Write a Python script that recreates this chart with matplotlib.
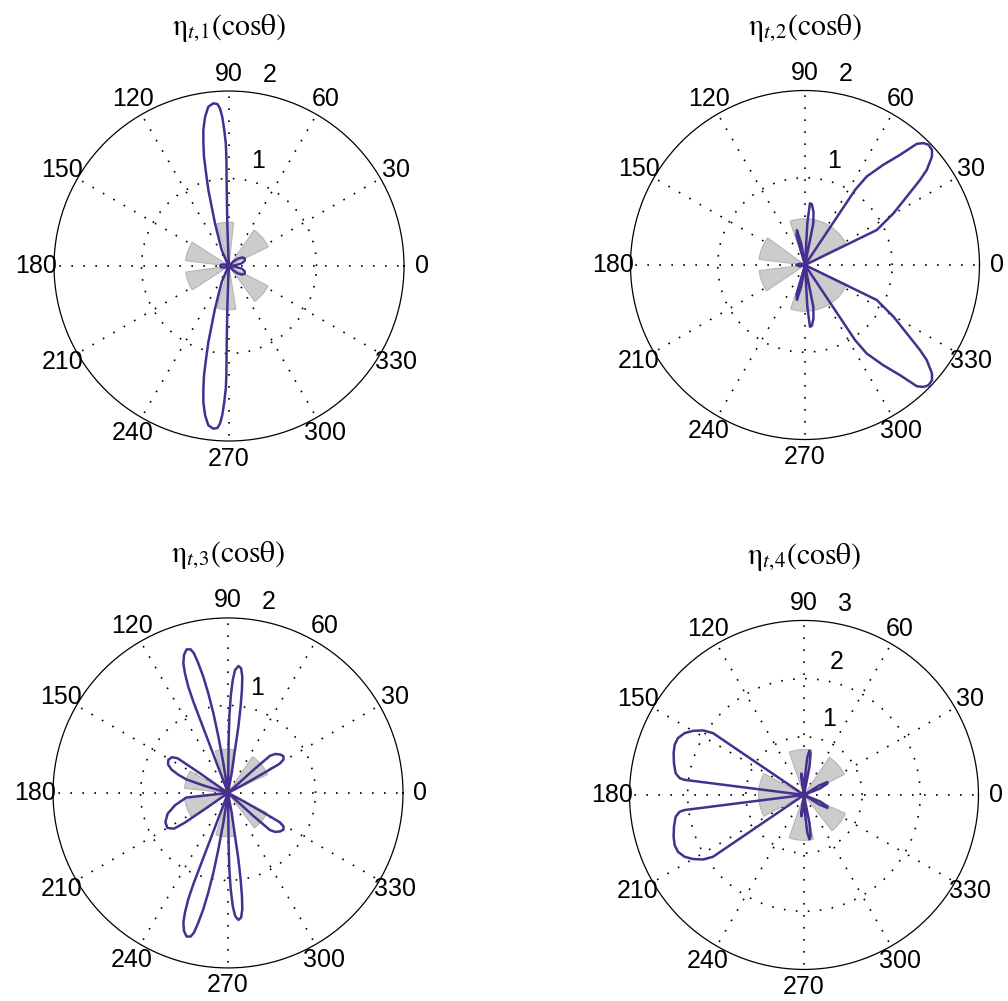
"""
Polar plots of eta_t,k(cos theta) with the angular distribution underneath
"""

import matplotlib
import matplotlib.pyplot as plt
import numpy as np

matplotlib.use("Agg")

plt.rcParams["mathtext.fontset"] = "stix"
plt.rcParams["font.family"] = ["Liberation Sans", "DejaVu Sans"]

PURPLE = "#46308f"

# curves, upper half traced in order (theta in degrees);
# the lower half is the mirror image (function of cos theta)
theta1 = [0, 6, 12, 19, 26, 33, 40, 46, 52, 90, 94, 92.3, 91.7, 91.4, 91.5,
          92.0, 92.6, 93.3, 94.1, 95.5, 97.4, 99.1, 100.7, 101.8, 102.9, 103.9,
          105.2, 106.3, 108.2, 110, 114.5, 120, 125, 150, 160, 170, 180]
r1 = [0, 0.06, 0.15, 0.19, 0.20, 0.18, 0.13, 0.07, 0, 0, 0.10, 0.49, 0.87,
      1.25, 1.40, 1.555, 1.708, 1.805, 1.856, 1.868, 1.836, 1.728, 1.582,
      1.433, 1.281, 1.091, 0.900, 0.706, 0.513, 0.357, 0.201, 0.05, 0, 0,
      0.05, 0.09, 0.10]

theta2 = [0, 24, 26.0, 30.3, 33.9, 36.5, 38.0, 40.5, 42.2, 44.2, 45.8, 47.3,
          49.2, 52.0, 55.1, 56.3, 57, 77, 78.7, 81, 83.5, 85.4, 86.8, 88, 97,
          100, 103, 106, 110, 150, 165, 180]
r2 = [0, 0, 0.916, 1.175, 1.406, 1.642, 1.772, 1.914, 1.965, 1.976, 1.949,
      1.891, 1.669, 1.458, 1.237, 1.035, 0, 0, 0.49, 0.62, 0.70, 0.71, 0.48, 0,
      0, 0.25, 0.41, 0.35, 0, 0, 0.06, 0.10]

theta3 = [0, 27, 28, 29, 29.5, 31, 33.5, 36.5, 39.5, 41.5, 42.2, 43,
          79, 79.4, 80.8, 81.1, 81.7, 82.3, 83.0, 84.0, 85.3, 86.7, 87.6, 88.4,
          89.0, 89.3, 89.3, 90,
          98.5, 98.9, 99.7, 100.4, 101.2, 102.0, 102.9, 103.7, 104.6, 106.1,
          107.7, 109.0, 109.8, 110.5, 110.8, 111.2,
          144, 145, 145.5, 147.5, 151, 154.5, 157.5, 160, 162, 163, 164, 180]
r3 = [0, 0, 0.20, 0.46, 0.68, 0.74, 0.76, 0.74, 0.70, 0.64, 0.39, 0,
      0, 0.229, 0.498, 0.767, 0.997, 1.188, 1.340, 1.432, 1.456, 1.408, 1.293,
      1.101, 0.873, 0.606, 0.30, 0,
      0, 0.343, 0.653, 0.926, 1.161, 1.359, 1.520, 1.643, 1.696, 1.708,
      1.655, 1.567, 1.453, 1.297, 1.117, 0,
      0, 0.40, 0.70, 0.76, 0.78, 0.76, 0.70, 0.60, 0.50, 0.30, 0, 0]
# panel 3, lower-left lobe is not an exact mirror of the upper-left one
theta3_ll = [185.5, 186.3, 193, 199, 205, 210, 213.5, 214.5, 215, 216]
r3_ll = [0, 0.48, 0.62, 0.73, 0.79, 0.80, 0.74, 0.60, 0.30, 0]

theta4 = [0, 18, 22, 26, 29, 32, 35, 77, 79, 81, 83, 85, 87, 88, 93, 95, 97,
          99, 101, 145, 145.8, 147.4, 150.0, 152.6, 155.7, 158.8, 162.2, 166.3,
          170.4, 172.3, 172.8, 173.5, 180]
r4 = [0, 0, 0.30, 0.45, 0.46, 0.30, 0, 0, 0.50, 0.72, 0.77, 0.65, 0.30, 0, 0,
      0.25, 0.37, 0.30, 0, 0, 1.891, 2.060, 2.204, 2.311, 2.377, 2.385, 2.354,
      2.301, 2.238, 2.157, 2.068, 0, 0]

# grey wedges: start / end angle (deg) and radius
wedge_lo1 = [26, 84, 147, 188, 254, 306]
wedge_hi1 = [55, 106, 173, 213, 279, 333]
wedge_lo2 = [28, 144, 187, 252]
wedge_hi2 = [109, 173, 214, 335]
wedge_lo3 = [25, 83, 150, 187, 254, 307]
wedge_hi3 = [56, 107, 174, 213, 279, 333]
wedge_lo4 = [27, 80, 152, 251, 308]
wedge_hi4 = [56, 109, 208, 282, 336]
wedge_r = [0.5, 0.53, 0.5, 0.78]

rmax = [2, 2, 2, 3]
rings = [[1], [1], [1], [1, 2]]
titles = [r"$\mathrm{\eta}_{t,\!%d}(\mathrm{cos\theta})$" % k
          for k in (1, 2, 3, 4)]

# axes boxes in figure fraction (left, bottom, width, height)
boxes = [
    [0.0536, 0.5594, 0.3472, 0.3497],
    [0.6255, 0.5609, 0.3462, 0.3487],
    [0.0526, 0.0330, 0.3472, 0.3497],
    [0.6245, 0.0315, 0.3462, 0.3487],
]


def mirror(theta, r, patch=None):
    th = np.asarray(theta, float)
    rr = np.asarray(r, float)
    th = np.concatenate([th, 360 - th[::-1]])
    rr = np.concatenate([rr, rr[::-1]])
    if patch is not None:
        p_th, p_r = np.asarray(patch[0], float), np.asarray(patch[1], float)
        keep = (th <= p_th[0]) | (th >= p_th[-1])
        th, rr = th[keep], rr[keep]
        cut = np.searchsorted(th, p_th[0], side="right")
        th = np.concatenate([th[:cut], p_th, th[cut:]])
        rr = np.concatenate([rr[:cut], p_r, rr[cut:]])
    return th, rr


def draw_panel(ax, curve, w_lo, w_hi, w_rad, r_max, ring, title):
    ax.set_ylim(0, r_max)
    ax.set_thetagrids(np.arange(0, 360, 30), labels=[])
    ax.set_rgrids(ring, labels=[])
    ax.grid(True, color="k", linestyle=(0, (1, 6.2)), linewidth=1.2)
    ax.set_axisbelow(True)
    ax.spines["polar"].set_linewidth(0.9)

    lo = np.deg2rad(w_lo)
    hi = np.deg2rad(w_hi)
    ax.bar((lo + hi) / 2, [w_rad] * len(lo), width=hi - lo, bottom=0,
           color="#cccccc", edgecolor="#b5b5b5", linewidth=0.8, zorder=2)

    th, rr = curve
    ax.plot(np.deg2rad(th), rr, color=PURPLE, linewidth=1.8, zorder=3)

    for a in range(0, 360, 30):
        ax.text(np.deg2rad(a), 1.1 * r_max, str(a), ha="center", va="center",
                fontsize=18)
    for k in ring + [r_max]:
        ax.annotate(str(k), xy=(np.deg2rad(82), k), xytext=(12, 13),
                    textcoords="offset points", ha="center", va="center",
                    fontsize=18)
    ax.text(0.5, 1.18, title, transform=ax.transAxes, ha="center",
            va="center", fontsize=21.5)


fig = plt.figure(figsize=(10.08, 10.01), dpi=100)
data = [
    (mirror(theta1, r1), wedge_lo1, wedge_hi1),
    (mirror(theta2, r2), wedge_lo2, wedge_hi2),
    (mirror(theta3, r3, (theta3_ll, r3_ll)), wedge_lo3, wedge_hi3),
    (mirror(theta4, r4), wedge_lo4, wedge_hi4),
]
for i, (curve, lo, hi) in enumerate(data):
    ax = fig.add_axes(boxes[i], projection="polar")
    draw_panel(ax, curve, lo, hi, wedge_r[i], rmax[i], rings[i], titles[i])

fig.savefig("out.png", dpi=100)
